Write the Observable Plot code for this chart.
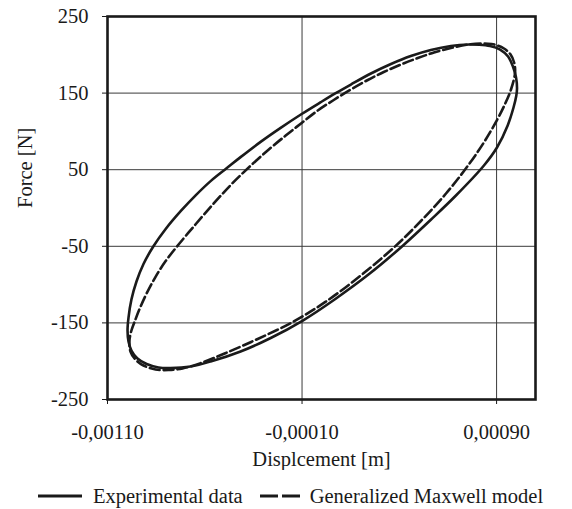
<!DOCTYPE html>
<html>
<head>
<meta charset="utf-8">
<script src="https://cdn.jsdelivr.net/npm/d3@7"></script>
<script src="https://cdn.jsdelivr.net/npm/@observablehq/plot@0.6"></script>
<style>
  body { margin: 0; background: #fff; font-family: "Liberation Serif", "Times New Roman", serif; color: #1a1a1a; }
  #chart svg { display: block; }
  #chart svg text { font-family: "Liberation Serif", "Times New Roman", serif !important; font-variant-numeric: normal !important; }
  .legend { display: flex; align-items: center; height: 40px; margin-top: 6px; padding-left: 38px; font-size: 20.5px; white-space: nowrap; }
  .legend svg { display: block; }
  .legend .item { display: flex; align-items: center; }
</style>
</head>
<body>
<div id="chart"></div>
<div class="legend">
  <span class="item"><svg width="44" height="10"><line x1="0" x2="44" y1="5" y2="5" stroke="#1a1a1a" stroke-width="3"/></svg><span style="margin-left:11px">Experimental data</span></span>
  <span class="item" style="margin-left:17px"><svg width="40" height="10"><line x1="0" x2="40" y1="5" y2="5" stroke="#1a1a1a" stroke-width="3" stroke-dasharray="18,4"/></svg><span style="margin-left:10px">Generalized Maxwell model</span></span>
</div>
<script>
// Hysteresis loop: displacement [m] vs force [N], traced once around the cycle
const experimentalDisp = [0.001005, 0.001000, 0.000984, 0.000959, 0.000918, 0.000866, 0.000809, 0.000758, 0.000665, 0.000562,
  0.000459, 0.000357, 0.000254, 0.000151, 0.000073, -0.000004, -0.000102, -0.000210, -0.000313, -0.000416,
  -0.000488, -0.000570, -0.000647, -0.000724, -0.000802, -0.000863, -0.000915, -0.000951, -0.000977, -0.000992,
  -0.000997, -0.000992, -0.000977, -0.000946, -0.000899, -0.000838, -0.000776, -0.000673, -0.000570, -0.000416,
  -0.000261, -0.000096, 0.000073, 0.000243, 0.000418, 0.000562, 0.000691, 0.000835, 0.000902, 0.000957,
  0.000987, 0.001001];
const experimentalForce = [156.0, 170.4, 184.7, 197.8, 206.9, 211.5, 213.2, 213.4, 211.5, 206.3,
  198.4, 188.0, 175.6, 161.2, 149.9, 138.1, 122.7, 104.6, 86.3, 66.4,
  51.8, 35.1, 16.5, -4.2, -27.7, -49.6, -73.1, -96.0, -119.5, -143.0,
  -159.9, -174.3, -186.0, -196.5, -203.7, -208.2, -208.9, -206.9, -200.4, -187.3,
  -169.7, -146.9, -118.4, -86.6, -49.2, -15.3, 16.3, 55.5, 79.0, 107.7,
  131.2, 146.2];

const modelDisp = [0.000995, 0.000990, 0.000972, 0.000938, 0.000897, 0.000856, 0.000753, 0.000665, 0.000578, 0.000495,
  0.000408, 0.000320, 0.000238, 0.000151, 0.000063, -0.000019, -0.000102, -0.000184, -0.000271, -0.000374,
  -0.000467, -0.000554, -0.000647, -0.000745, -0.000802, -0.000853, -0.000899, -0.000935, -0.000961, -0.000977,
  -0.000987, -0.000982, -0.000956, -0.000915, -0.000853, -0.000786, -0.000714, -0.000621, -0.000498, -0.000328,
  -0.000143, 0.000022, 0.000202, 0.000372, 0.000511, 0.000640, 0.000742, 0.000830, 0.000902, 0.000943,
  0.000974];
const modelForce = [176.9, 190.0, 200.4, 208.2, 212.8, 214.5, 213.4, 208.9, 203.0, 195.8,
  187.3, 177.5, 167.1, 154.7, 141.0, 127.3, 111.0, 94.6, 76.4, 52.9,
  29.9, 5.9, -21.2, -50.9, -69.6, -89.8, -111.6, -131.7, -148.7, -159.9,
  -173.0, -187.3, -197.8, -205.6, -210.8, -211.5, -209.5, -202.5, -190.0, -171.0,
  -148.2, -122.3, -88.1, -51.6, -17.0, 18.9, 51.6, 83.7, 114.8, 135.6,
  154.7];

const xTicks = [-0.0011, -0.0001, 0.0009];
const yTicks = [-250, -150, -50, 50, 150, 250];
const xGrid = [-0.0001, 0.0009];
const yGrid = [-150, -50, 50, 150];

const experimental = experimentalDisp.map((d, i) => ({disp: d, force: experimentalForce[i]}));
const model = modelDisp.map((d, i) => ({disp: d, force: modelForce[i]}));

const ink = "#1a1a1a";
const serif = "Liberation Serif, Times New Roman, serif";
const fmtX = v => v.toFixed(5).replace(".", ",");

const chart = Plot.plot({
  width: 572,
  height: 470,
  marginLeft: 107,
  marginRight: 37,
  marginTop: 16,
  marginBottom: 71,
  style: {fontSize: "20.5px", color: ink, background: "#fff"},
  x: {domain: [-0.0011, 0.0011]},
  y: {domain: [-250, 250]},
  marks: [
    Plot.gridX(xGrid, {stroke: "#3a3a3a", strokeOpacity: 1, strokeWidth: 1}),
    Plot.gridY(yGrid, {stroke: "#3a3a3a", strokeOpacity: 1, strokeWidth: 1}),
    Plot.axisX(xTicks, {tickFormat: fmtX, tickSize: 5, tickPadding: 20, label: null, stroke: ink, fill: ink, fontFamily: serif, fontSize: 20.5}),
    Plot.axisY(yTicks, {tickFormat: d => String(d), tickSize: 5, tickPadding: 14, label: null, stroke: ink, fill: ink, fontFamily: serif, fontSize: 20.5}),
    Plot.line(model, {x: "disp", y: "force", curve: "catmull-rom-closed", stroke: ink, strokeWidth: 2.6, strokeDasharray: "10,4"}),
    Plot.line(experimental, {x: "disp", y: "force", curve: "catmull-rom-closed", stroke: ink, strokeWidth: 2.6}),
    Plot.frame({stroke: ink, strokeWidth: 2.6}),
    Plot.text(["Displcement [m]"], {frameAnchor: "bottom", dy: 66, fill: ink, fontFamily: serif, fontSize: 20.5}),
    Plot.text(["Force [N]"], {frameAnchor: "left", dx: -82, rotate: -90, fill: ink, fontFamily: serif, fontSize: 20.5})
  ]
});
document.getElementById("chart").appendChild(chart);
</script>
</body>
</html>
